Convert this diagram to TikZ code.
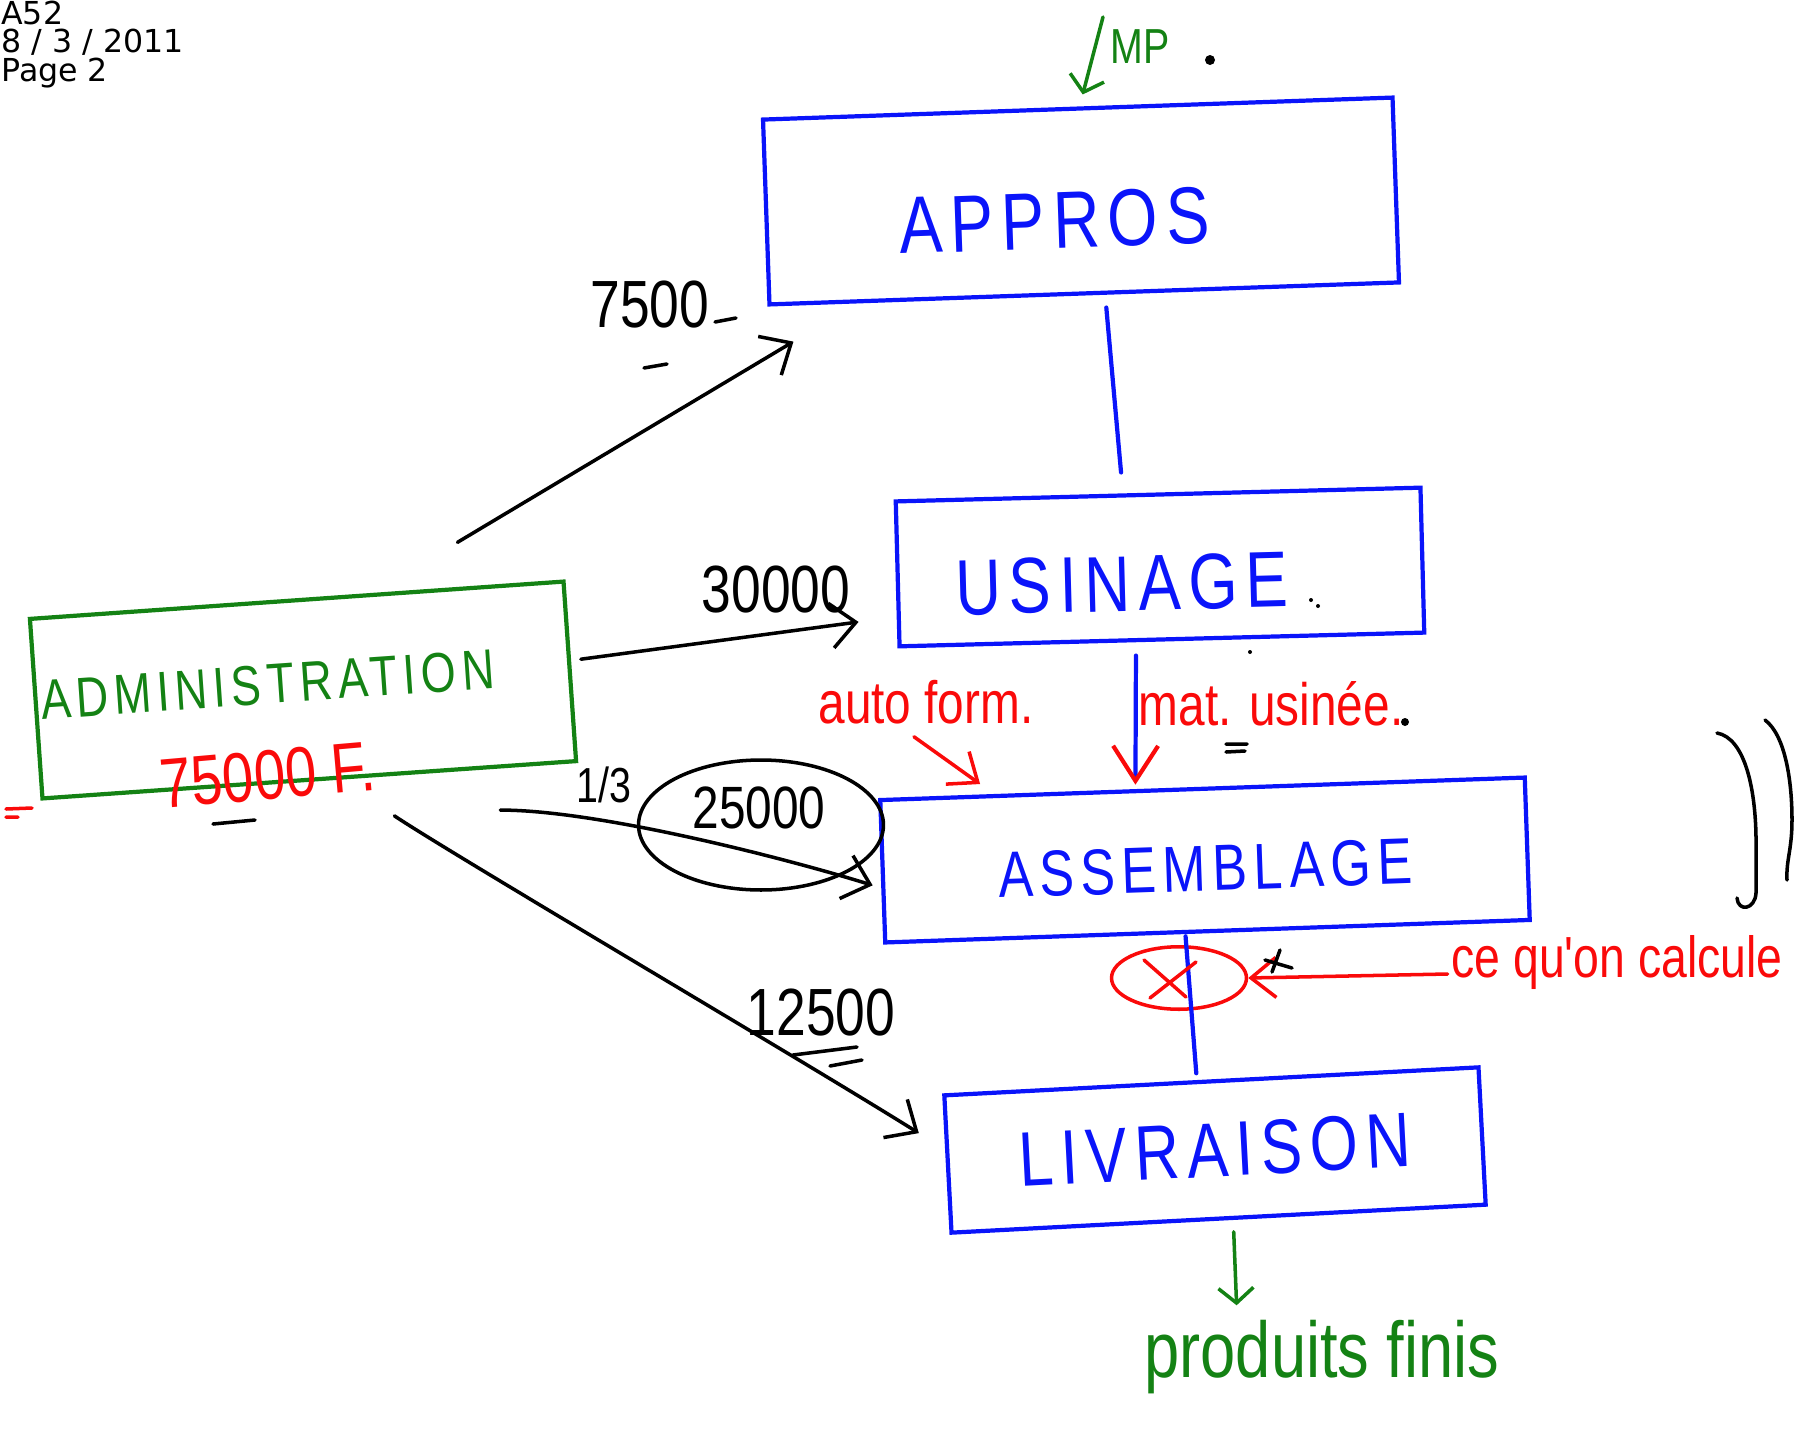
\documentclass[tikz,border=0pt]{standalone}
\usepackage{fontspec}
\setmainfont{DejaVu Sans}
\newfontfamily\stagefont[FakeStretch=0.8,LetterSpace=10]{Liberation Sans}
\newfontfamily\handfont[FakeStretch=0.8]{Liberation Sans}
\newcommand\stagesize[1]{\stagefont\fontsize{#1}{#1}\selectfont}
\usetikzlibrary{arrows.meta, shapes.geometric, positioning}
\definecolor{inkblue}{RGB}{10,20,250}
\definecolor{inkgreen}{RGB}{20,130,20}
\definecolor{inkred}{RGB}{250,10,10}

\begin{document}
\begin{tikzpicture}[
      x=0.02cm, y=-0.02cm,
      stage/.style={draw=inkblue, line width=2.4pt, text=inkblue, inner sep=0pt},
      hand/.style={font=\handfont\fontsize{#1}{#1}\selectfont, inner sep=2pt},
      ink/.style={line width=2pt, line cap=round, line join=round},
      barb/.style={-{Straight Barb[length=5mm,width=9mm]}},
      redbarb/.style={-{Straight Barb[length=5mm,width=8mm,color=inkred]}},
      greenbarb/.style={-{Straight Barb[length=3mm,width=7mm]}}
    ]
      \useasboundingbox (0,0) rectangle (1803,1444);

      \node[anchor=north west, align=left, inner sep=0pt, font=\fontsize{18}{16}\selectfont] (header) at (1,1) {A52\\8 / 3 / 2011\\Page 2};

      \node[stage, rotate=2, minimum width=12.6cm, minimum height=3.7cm, text height=53pt, text depth=0pt, font=\stagesize{46}] (appros) at (1081,201) {APPROS\hspace*{31pt}};
      \node[stage, rotate=1.5, minimum width=10.5cm, minimum height=2.9cm, text height=49pt, text depth=0pt, font=\stagesize{45}] (usinage) at (1160,567) {USINAGE\hspace*{44pt}};
      \node[stage, rotate=2, minimum width=12.9cm, minimum height=2.85cm, text height=35pt, text depth=0pt, font=\stagesize{37}] (assem) at (1205,860) {ASSEMBLAGE};
      \node[stage, rotate=3, minimum width=10.7cm, minimum height=2.75cm, font=\stagesize{44}] (livr) at (1215,1150) {LIVRAISON};
      \node[stage, draw=inkgreen, text=inkgreen, rotate=4, minimum width=10.7cm, minimum height=3.6cm, text height=23pt, text depth=10pt, font=\stagesize{32}] (admin) at (303,690) {ADMINISTRATION\hspace*{40pt}};
      \node[hand=40, text=inkred, rotate=5, inner sep=0pt] (admincost) at (268,775) {75000 F.};

      \node[hand=28, text=inkgreen] (mp) at (1140,47) {MP};
      \coordinate (mptop) at (1103,17);
      \node[hand=38] (approsamt) at (650,305) {7500};
      \node[hand=38] (usinageamt) at (776,590) {30000};
      \node[hand=28] (share) at (604,785) {1/3};
      \node[draw, ellipse, ink, minimum width=4.9cm, minimum height=2.6cm] (ring) at (761,825) {};
      \node[hand=34] (assemamt) at (759,808) {25000};
      \node[hand=38] (livramt) at (821,1013) {12500};
      \node[hand=34, text=inkred] (autoform) at (926,702) {auto form.};
      \node[hand=34, text=inkred] (matusinee) at (1271,704) {mat. usinée.};
      \node[hand=33, text=inkred] (calcul) at (1617,962) {ce qu'on calcule};
      \node[draw=inkred, ellipse, ink, minimum width=2.7cm, minimum height=1.25cm] (mark) at (1179,978) {};
      \node[hand=45, text=inkgreen] (produits) at (1322,1357) {produits finis};

      \draw[ink, barb] ([shift={(-108,-37)}]admin.north east) -- ([shift={(26,35)}]appros.south west);
      \draw[ink, barb] ([shift={(9,-12)}]admin.east) -- ([shift={(-37,48)}]usinage.west);
      \draw[ink, barb] ([shift={(-78,47)}]admin.south east) .. controls +(100,0) and +(-80,-25) .. ([shift={(-8,14)}]assem.west);
      \draw[ink, barb] ([shift={(85,34)}]admin.south) .. controls +(60,40) and +(-120,-75) .. ([shift={(-27,-31)}]livr.west);

      \draw[ink, inkblue, line width=2.4pt] ([shift={(22,12)}]appros.south) -- ([shift={(-37,-20)}]usinage.north);
      \draw[ink, inkblue, line width=2.4pt, -{Straight Barb[length=7mm,width=9mm,color=inkred]}] ([shift={(-26,14)}]usinage.south) -- ([shift={(-67,-2)}]assem.north);
      \draw[ink, inkblue, line width=2.4pt] ([shift={(-22,3)}]assem.south) -- ([shift={(-15,-6)}]livr.north);

      \draw[ink, inkgreen, greenbarb] (mptop) -- ([shift={(5,-12)}]appros.north);
      \draw[ink, inkgreen, greenbarb] ([shift={(15,11)}]livr.south) -- ([shift={(96,-11)}]produits.north west);

      \draw[ink, inkred, redbarb] ([shift={(-12,9)}]autoform.south) -- ([shift={(102,-14)}]assem.north west);
      \draw[ink, inkred, redbarb] ([shift={(0,12)}]calcul.west) -- (mark.east);
      \draw[ink, inkred] ([shift={(-35,-18)}]mark.center) -- ([shift={(7,19)}]mark.center)
                         ([shift={(17,-16)}]mark.center) -- ([shift={(-29,20)}]mark.center);

      \draw[ink] (1717,733) .. controls (1745,738) and (1757,790) .. (1756,850) -- (1756,893)
                 .. controls (1755,910) and (1738,912) .. (1737,898);
      \draw[ink] (1765,720) .. controls (1785,735) and (1792,780) .. (1792,820)
                 .. controls (1792,850) and (1786,860) .. (1787,880);

      \draw[ink] (715,322) -- (736,318) (644,368) -- (667,364);
      \draw[ink] (793,1055) -- (857,1047) (830,1066) -- (862,1060);
      \draw[ink] (213,824) -- (255,820);
      \draw[ink] (1226,744) -- (1247,744) (1226,752) -- (1245,751);
      \draw[ink] (1265,960) -- (1292,968) (1272,972) -- (1280,950);
      \draw[ink, inkred] (6,809) -- (32,808) (6,817) -- (18,817);
      \fill (1210,60) circle (5) (1405,722) circle (4);
      \fill (1311,600) circle (2) (1318,606) circle (2) (1250,652) circle (2);
  \end{tikzpicture}
\end{document}
